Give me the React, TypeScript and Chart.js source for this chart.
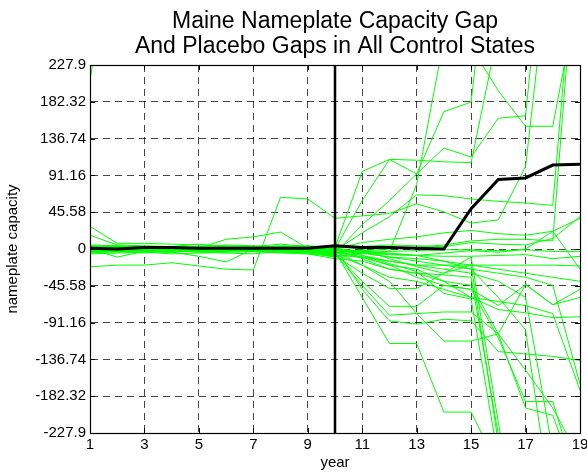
import React, { useEffect, useRef } from 'react';
import { Chart, registerables } from 'chart.js';

Chart.register(...registerables);

// ---------- data ----------
const years = [1, 2, 3, 4, 5, 6, 7, 8, 9, 10, 11, 12, 13, 14, 15, 16, 17, 18, 19];

const maineGap = [1, 0, 2, 2, 1, 1, 1, 1, 1, 4, 2, 2, 1, 0, 50, 86, 88, 104, 105];

const placebo01 = [209, 420, 460, 470, 480, 490, 500, 520, 540, 560, 580, 600, 620, 640, 660, 680, 700, 720, 740];
const placebo02 = [-22, -20, -20, -17, -21, -25, -26, 64, 62, 38, 41, 44, 56, 46, 32, 36, 102, 400, 450];
const placebo03 = [28, 7, 7, 6, 5, 4, 3, 6, 3, 2, 96, 111, 93, 170, 182, 480, 500, 520, 540];
const placebo04 = [17, 5, 4, 3, 6, 2, 3, 2, 1, 0, 60, 111, 110, 108, 107, 270, 400, 450, 480];
const placebo05 = [0, -10, -3, -4, -9, -16, 0, -2, -3, -5, 30, 60, 93, 125, 114, 162, 165, 500, 520];
const placebo06 = [0, 1, 2, 3, 1, 12, 15, 21, 1, -2, 20, 40, 67, 66, 62, 59, 57, 54, 450];
const placebo07 = [3, 2, 1, 0, -2, -3, 2, 4, 3, 1, -5, -3, 80, 260, 250, 196, 152, 152, 330];
const placebo08 = [5, 4, 3, 2, 3, 5, 4, 2, 3, 0, 8, 12, 15, 20, 23, 19, 17, 22, 38];
const placebo09 = [-5, -3, -2, -1, 0, 1, -3, -4, -2, 1, 3, 5, 4, 3, 8, 6, 5, 13, 40];
const placebo10 = [2, 0, -1, 1, 0, -1, -2, 0, -4, -6, -4, -6, -8, -5, -2, -4, 0, 22, -25];
const placebo11 = [-3, -4, -2, -1, -3, -2, 0, 1, -2, -4, -2, 0, 2, 5, 10, 12, 12, 10, 440];
const placebo12 = [1, 2, 0, -1, 1, 0, -1, -2, -3, -3, -60, -117, -117, -202, -202, -270, -320, -340, -360];
const placebo13 = [-1, -2, -3, -4, -2, -1, -3, -5, -6, -8, -30, -49, -49, -30, -20, -25, -30, -35, -40];
const placebo14 = [2, 1, 0, -1, 2, 3, 1, -1, -2, -5, -40, -71, -71, -45, -50, -70, -44, -69, -60];
const placebo15 = [-4, -3, -5, -2, -4, -5, -6, -3, -2, -6, -45, -82, -80, -78, -78, -105, -150, -197, -260];
const placebo16 = [3, 4, 2, 1, -1, 0, 2, 3, 4, 2, -50, -89, -93, -87, -89, -127, -130, -133, -138];
const placebo17 = [-6, -5, -4, -6, -5, -4, -3, -2, -4, -7, -20, -40, -80, -114, -114, -105, -44, -69, -50];
const placebo18 = [1, 0, -2, -3, -1, 0, 1, -1, -3, -8, -10, -20, -25, -40, -60, -75, -79, -85, -84];
const placebo19 = [0, -1, 1, 2, 0, -1, -2, -4, -5, -9, -5, -10, -15, -20, -25, -30, -35, -45, -167];
const placebo20 = [-3, -2, -1, 0, -2, -3, -1, -2, -5, -10, -5, -10, -12, -15, -20, -240, -400, -420, -440];
const placebo21 = [2, 3, 1, 0, 2, 1, -1, -3, -6, -12, -15, -25, -30, -32, -35, -230, -400, -420, -440];
const placebo22 = [-1, 0, 1, -2, -3, -1, 0, -1, -2, -3, -10, -20, -35, -45, -50, -110, -189, -189, -300];
const placebo23 = [4, 3, 2, 1, 0, 2, 3, 1, -1, -1, -12, -25, -30, -40, -45, -105, -197, -206, -300];
const placebo24 = [0, 1, 2, 1, -1, -2, 0, 1, 2, 0, -8, -15, -20, -25, -30, -40, -60, -250, -400];
const placebo25 = [-2, -1, 0, -1, -2, -3, -1, 0, -1, -4, -10, -15, -20, -20, -20, -20, -20, -20, -21];
const placebo26 = [1, 2, 3, 2, 1, 0, -1, 0, 1, -2, -5, -7, -8, -9, -9, -8, -7, -12, -9];
const placebo27 = [0, -1, 0, 1, 0, -1, 0, 1, 0, -1, -2, -3, -2, -1, -1, -2, -1, -3, -3];
const placebo28 = [2, 1, 3, 2, 0, 1, 2, 0, -1, 0, -3, -5, -8, -15, -25, -60, -100, -330, -400];
const placebo29 = [-1, -2, 0, 1, 2, 1, 0, -1, -2, -3, -20, -35, -40, -50, -60, -65, -70, -80, -175];
const placebo30 = [1, 0, -1, 0, 1, 2, 1, 0, -1, 2, -8, -18, -28, -55, -62, -260, -420, -440, -460];
const placebo31 = [-2, -1, 1, 0, -1, 0, -2, -1, 1, 3, 0, -12, -22, -30, -10, -215, -400, -420, -440];

const placeboSeries = [
  placebo01, placebo02, placebo03, placebo04, placebo05, placebo06, placebo07, placebo08,
  placebo09, placebo10, placebo11, placebo12, placebo13, placebo14, placebo15, placebo16,
  placebo17, placebo18, placebo19, placebo20, placebo21, placebo22, placebo23, placebo24,
  placebo25, placebo26, placebo27, placebo28, placebo29, placebo30, placebo31,
];

const treatmentYear = 10;
const yLimit = 227.9;
const xTickValues = [1, 3, 5, 7, 9, 11, 13, 15, 17, 19];
const yTickValues = [-227.9, -182.32, -136.74, -91.16, -45.58, 0, 45.58, 91.16, 136.74, 182.32, 227.9];
const yTickLabels = ['-227.9', '-182.32', '-136.74', '-91.16', '-45.58', '0', '45.58', '91.16', '136.74', '182.32', '227.9'];

const titleLines = ['Maine Nameplate Capacity Gap', 'And Placebo Gaps in All Control States'];
const xAxisTitle = 'year';
const yAxisTitle = 'nameplate capacity';

const FONT = "'Liberation Sans', Arial, Helvetica, sans-serif";

const toPoints = (vals: number[]) => vals.map((v, i) => ({ x: years[i], y: v }));

const framePlugin = {
  id: 'matlabFrame',
  afterDatasetsDraw(chart: any) {
    const { ctx, chartArea } = chart;
    const { left, right, top, bottom } = chartArea;
    const xs = chart.scales.x;
    const ys = chart.scales.y;
    ctx.save();
    ctx.strokeStyle = '#000';
    ctx.lineWidth = 1;
    ctx.setLineDash([]);
    ctx.beginPath();
    const tl = 5;
    xTickValues.forEach((v) => {
      const px = Math.round(xs.getPixelForValue(v)) + 0.5;
      ctx.moveTo(px, bottom);
      ctx.lineTo(px, bottom - tl);
      ctx.moveTo(px, top);
      ctx.lineTo(px, top + tl);
    });
    yTickValues.forEach((v) => {
      const py = Math.round(ys.getPixelForValue(v)) + 0.5;
      ctx.moveTo(left, py);
      ctx.lineTo(left + tl, py);
      ctx.moveTo(right, py);
      ctx.lineTo(right - tl, py);
    });
    ctx.stroke();
    ctx.lineWidth = 1.2;
    ctx.strokeRect(Math.round(left) + 0.5, Math.round(top) + 0.5, Math.round(right - left), Math.round(bottom - top));
    ctx.restore();
  },
  afterDraw(chart: any) {
    const { ctx, chartArea } = chart;
    const cx = (chartArea.left + chartArea.right) / 2;
    ctx.save();
    ctx.fillStyle = '#000';
    ctx.font = `23px ${FONT}`;
    ctx.textAlign = 'center';
    ctx.textBaseline = 'alphabetic';
    ctx.fillText(titleLines[0], cx, 28);
    ctx.fillText(titleLines[1], cx, 53);
    ctx.restore();
  },
};

export default function App() {
  const canvasRef = useRef<HTMLCanvasElement | null>(null);

  useEffect(() => {
    document.body.style.margin = '0';
    const canvas = canvasRef.current;
    if (!canvas) return;

    const datasets: any[] = [
      {
        label: 'Maine',
        data: toPoints(maineGap),
        borderColor: '#000000',
        borderWidth: 3,
        pointRadius: 0,
        tension: 0,
        order: 0,
      },
      {
        label: 'treatment',
        data: [
          { x: treatmentYear, y: -yLimit },
          { x: treatmentYear, y: yLimit },
        ],
        borderColor: '#000000',
        borderWidth: 2.5,
        pointRadius: 0,
        order: 1,
      },
      ...placeboSeries.map((s, i) => ({
        label: `placebo ${i + 1}`,
        data: toPoints(s),
        borderColor: '#00ff00',
        borderWidth: 1,
        pointRadius: 0,
        tension: 0,
        order: 2,
      })),
    ];

    const chart = new Chart(canvas, {
      type: 'line',
      data: { datasets },
      plugins: [framePlugin],
      options: {
        responsive: false,
        animation: false,
        events: [],
        layout: { padding: { left: 0, right: 7, top: 65, bottom: 0 } },
        plugins: {
          legend: { display: false },
          title: { display: false },
          tooltip: { enabled: false },
        },
        scales: {
          x: {
            type: 'linear',
            min: 1,
            max: 19,
            afterBuildTicks: (s: any) => {
              s.ticks = xTickValues.map((v) => ({ value: v }));
            },
            afterFit: (s: any) => {
              s.height = 41;
              s.paddingLeft = 0;
              s.paddingRight = 0;
            },
            ticks: {
              color: '#000',
              font: { family: FONT, size: 15 },
              padding: 3,
              maxRotation: 0,
              autoSkip: false,
              callback: (v: any) => String(v),
            },
            grid: { color: 'rgba(0,0,0,0.72)', lineWidth: 1, drawTicks: false },
            border: { display: true, color: '#000', width: 1, dash: [7, 5] },
            title: {
              display: true,
              text: xAxisTitle,
              color: '#000',
              font: { family: FONT, size: 15 },
              padding: { top: 0, bottom: 2 },
            },
          },
          y: {
            type: 'linear',
            min: -yLimit,
            max: yLimit,
            afterBuildTicks: (s: any) => {
              s.ticks = yTickValues.map((v) => ({ value: v }));
            },
            afterFit: (s: any) => {
              s.width = 90;
              s.paddingTop = 0;
              s.paddingBottom = 0;
            },
            ticks: {
              color: '#000',
              font: { family: FONT, size: 15 },
              padding: 4,
              autoSkip: false,
              callback: (v: any) => {
                const idx = yTickValues.findIndex((t) => Math.abs(t - Number(v)) < 1e-6);
                return idx >= 0 ? yTickLabels[idx] : '';
              },
            },
            grid: { color: 'rgba(0,0,0,0.72)', lineWidth: 1, drawTicks: false },
            border: { display: true, color: '#000', width: 1, dash: [7, 5] },
            title: {
              display: true,
              text: yAxisTitle,
              color: '#000',
              font: { family: FONT, size: 15 },
              padding: { top: 4, bottom: 0 },
            },
          },
        },
      },
    });

    return () => {
      chart.destroy();
    };
  }, []);

  return (
    <div style={{ width: 587, height: 474, background: '#fff' }}>
      <canvas ref={canvasRef} width={587} height={474} style={{ display: 'block' }} />
    </div>
  );
}
